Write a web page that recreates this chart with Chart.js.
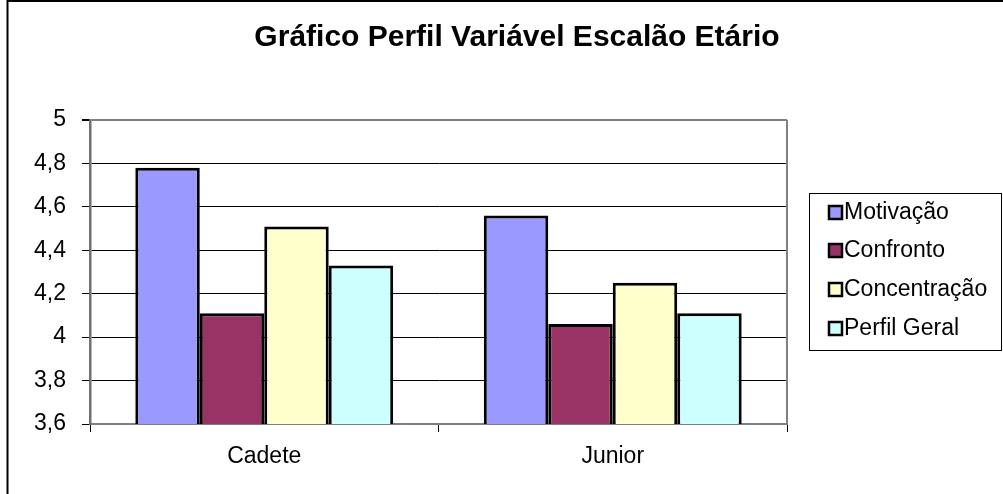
<!DOCTYPE html>
<html lang="pt">
<head>
    <meta charset="UTF-8">
    <title>Gráfico Perfil Variável Escalão Etário</title>
    <script src="https://cdn.jsdelivr.net/npm/chart.js"></script>
    <style>
        body { margin: 0; background: #fff; }
        #wrap { width: 1003px; height: 494px; }
    </style>
</head>
<body>
    <div id="wrap"><canvas id="perfilChart"></canvas></div>

    <script>
        // dados
        const categorias = ['Cadete', 'Junior'];
        const motivacao = [4.78, 4.56];
        const confronto = [4.11, 4.06];
        const concentracao = [4.51, 4.25];
        const perfilGeral = [4.33, 4.11];
        const yTicks = [3.6, 3.8, 4, 4.2, 4.4, 4.6, 4.8, 5];

        const titulo = 'Gráfico Perfil Variável Escalão Etário';
        const fonte = '"Liberation Sans", Arial, sans-serif';

        const fmt = v => Number(v.toFixed(1)).toString().replace('.', ',');

        // titulo, legenda com moldura e bordas à moda do Excel
        const excelExtras = {
            id: 'excelExtras',
            afterDraw(chart) {
                const ctx = chart.ctx;
                const area = chart.chartArea;
                ctx.save();

                // moldura exterior (só esquerda e topo visíveis)
                ctx.strokeStyle = '#000';
                ctx.lineWidth = 2;
                ctx.beginPath();
                ctx.moveTo(7.5, 494);
                ctx.lineTo(7.5, 1);
                ctx.lineTo(1003, 1);
                ctx.stroke();

                // borda direita da área do gráfico
                ctx.strokeStyle = '#808080';
                ctx.lineWidth = 2;
                ctx.beginPath();
                ctx.moveTo(area.right, area.top);
                ctx.lineTo(area.right, area.bottom);
                ctx.stroke();

                // titulo
                ctx.fillStyle = '#000';
                ctx.font = 'bold 30px ' + fonte;
                ctx.textAlign = 'center';
                ctx.textBaseline = 'middle';
                ctx.fillText(titulo, 517, 38);

                // legenda
                ctx.strokeStyle = '#000';
                ctx.lineWidth = 1;
                ctx.strokeRect(809.5, 193.5, 192, 157);
                ctx.font = '23px ' + fonte;
                ctx.textAlign = 'left';
                const rows = [212, 250, 289, 328];
                chart.data.datasets.forEach((ds, i) => {
                    const y = rows[i];
                    ctx.fillStyle = ds.backgroundColor;
                    ctx.fillRect(829, y - 6, 13, 13);
                    ctx.lineWidth = 2.5;
                    ctx.strokeRect(829, y - 6, 13, 13);
                    ctx.fillStyle = '#000';
                    ctx.fillText(ds.label, 844, y + 1);
                });
                ctx.restore();
            }
        };

        const ctx = document.getElementById('perfilChart').getContext('2d');
        const chart = new Chart(ctx, {
            type: 'bar',
            data: {
                labels: categorias,
                datasets: [
                    { label: 'Motivação', data: motivacao, backgroundColor: '#9999FF' },
                    { label: 'Confronto', data: confronto, backgroundColor: '#993366' },
                    { label: 'Concentração', data: concentracao, backgroundColor: '#FFFFCC' },
                    { label: 'Perfil Geral', data: perfilGeral, backgroundColor: '#CCFFFF' }
                ].map(d => Object.assign(d, {
                    borderColor: '#000',
                    borderWidth: 3,
                    borderSkipped: false,
                    categoryPercentage: 0.74,
                    barPercentage: 1
                }))
            },
            options: {
                responsive: true,
                maintainAspectRatio: false,
                animation: false,
                layout: { padding: { top: 120, right: 216, left: 0, bottom: 0 } },
                plugins: {
                    legend: { display: false },
                    title: { display: false },
                    tooltip: { enabled: false }
                },
                scales: {
                    x: {
                        afterFit: s => { s.height = 70; },
                        grid: {
                            offset: true,
                            drawOnChartArea: false,
                            color: '#000',
                            tickLength: 8
                        },
                        border: { color: '#808080', width: 2 },
                        ticks: {
                            color: '#000',
                            padding: 11,
                            font: { family: fonte, size: 23 }
                        }
                    },
                    y: {
                        min: 3.6,
                        max: 5,
                        afterFit: s => { s.width = 90; },
                        afterBuildTicks: s => { s.ticks = yTicks.map(v => ({ value: v })); },
                        grid: {
                            color: c => c.tick && c.tick.value === 5 ? '#808080' : '#000',
                            lineWidth: c => c.tick && c.tick.value === 5 ? 2 : 1,
                            tickColor: '#000',
                            tickLength: 8
                        },
                        border: { color: '#707070', width: 2.5 },
                        ticks: {
                            color: '#000',
                            padding: 16,
                            font: { family: fonte, size: 23 },
                            callback: v => fmt(v)
                        }
                    }
                }
            },
            plugins: [excelExtras]
        });
    </script>
</body>
</html>
